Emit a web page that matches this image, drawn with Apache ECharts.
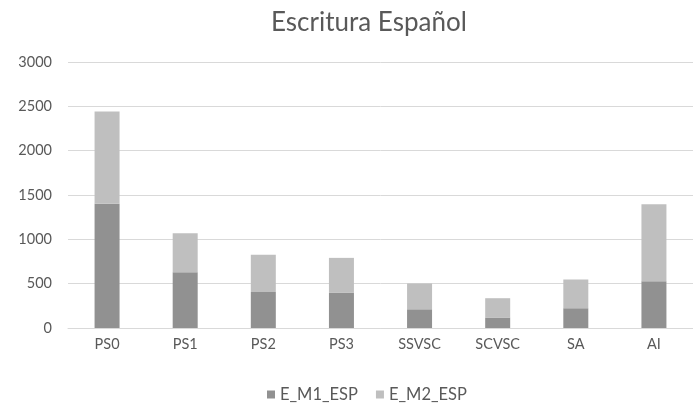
<!DOCTYPE html>
<html><head><meta charset="utf-8">
<script src="https://cdn.jsdelivr.net/npm/echarts@6/dist/echarts.min.js"></script>
<style>html,body{margin:0;padding:0;background:#fff}#c{width:693px;height:403px}</style>
</head><body><div id="c"></div>
<script>
const categories = ['PS0','PS1','PS2','PS3','SSVSC','SCVSC','SA','AI'];
const m1 = [1400, 630, 407, 396, 211, 118, 223, 528];
const m2 = [1041, 440, 418, 395, 291, 218, 324, 867];
const yTicks = [0, 500, 1000, 1500, 2000, 2500, 3000];
const font = 'Lato';
const chart = echarts.init(document.getElementById('c'));
chart.setOption({
  animation: false,
  backgroundColor: '#fff',
  title: { text: 'Escritura Español', left: 266, top: 5,
    textStyle: { fontFamily: font, fontSize: 26, fontWeight: 'normal', color: '#595959' } },
  legend: { top: 381, left: 262, itemWidth: 8, itemHeight: 8, itemGap: 18,
    icon: 'rect',
    textStyle: { fontFamily: font, fontSize: 16.5, color: '#595959' },
    data: ['E_M1_ESP','E_M2_ESP'] },
  grid: { left: 68, width: 632, top: 62, height: 266 },
  xAxis: { type: 'category', data: categories,
    axisLine: { lineStyle: { color: '#d9d9d9', width: 1 } },
    axisTick: { show: false },
    axisLabel: { fontFamily: font, fontSize: 14.5, color: '#595959', margin: 9 } },
  yAxis: { type: 'value', min: yTicks[0], max: yTicks[yTicks.length-1], interval: 500,
    axisLine: { show: false }, axisTick: { show: false },
    splitLine: { lineStyle: { color: '#d9d9d9', width: 1 } },
    axisLabel: { fontFamily: font, fontSize: 14.5, color: '#595959', margin: 16,
      formatter: v => String(v) } },
  series: [
    { name: 'E_M1_ESP', type: 'bar', stack: 's', data: m1, barWidth: 25,
      itemStyle: { color: '#919191' } },
    { name: 'E_M2_ESP', type: 'bar', stack: 's', data: m2, barWidth: 25,
      itemStyle: { color: '#bfbfbf' } }
  ]
});
</script></body></html>
